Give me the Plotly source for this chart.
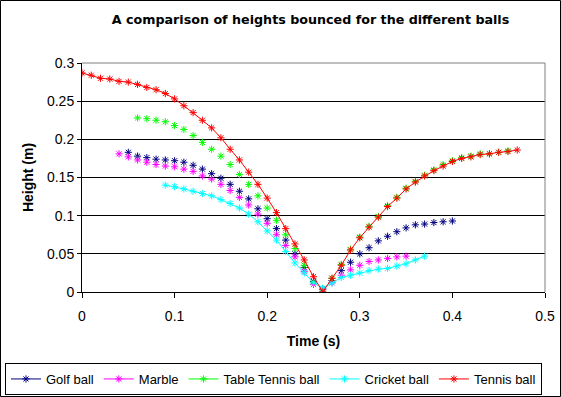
import plotly.graph_objects as go

# ---------------- data ----------------
golf_t = [0.05, 0.06, 0.07, 0.08, 0.09, 0.10, 0.11, 0.12, 0.13, 0.14, 0.15, 0.16,
          0.17, 0.18, 0.19, 0.20, 0.21, 0.22, 0.23, 0.24, 0.25, 0.26, 0.27, 0.28,
          0.29, 0.30, 0.31, 0.32, 0.33, 0.34, 0.35, 0.36, 0.37, 0.38, 0.39, 0.40]
golf_h = [0.183, 0.178, 0.176, 0.174, 0.173, 0.172, 0.170, 0.166, 0.161, 0.155, 0.149, 0.141,
          0.132, 0.122, 0.109, 0.096, 0.083, 0.068, 0.050, 0.032, 0.014, 0.004, 0.015, 0.028,
          0.039, 0.050, 0.058, 0.067, 0.073, 0.079, 0.084, 0.088, 0.089, 0.091, 0.092, 0.093]

marble_t = [0.04, 0.05, 0.06, 0.07, 0.08, 0.09, 0.10, 0.11, 0.12, 0.13, 0.14, 0.15,
            0.16, 0.17, 0.18, 0.19, 0.20, 0.21, 0.22, 0.23, 0.24, 0.25, 0.26, 0.27,
            0.28, 0.29, 0.30, 0.31, 0.32, 0.33, 0.34, 0.35]
marble_h = [0.181, 0.177, 0.173, 0.170, 0.167, 0.165, 0.164, 0.161, 0.158, 0.152, 0.148, 0.141,
            0.133, 0.124, 0.114, 0.102, 0.090, 0.075, 0.061, 0.046, 0.027, 0.010, 0.003, 0.012,
            0.022, 0.029, 0.035, 0.040, 0.042, 0.044, 0.046, 0.047]

tt_t = [0.06, 0.07, 0.08, 0.09, 0.10, 0.11, 0.12, 0.13, 0.14, 0.15, 0.16, 0.17,
        0.18, 0.19, 0.20, 0.21, 0.22, 0.23, 0.24, 0.25, 0.26, 0.27, 0.28, 0.29,
        0.30, 0.31, 0.32, 0.33, 0.34, 0.35, 0.36, 0.37, 0.38, 0.39, 0.40, 0.41,
        0.42, 0.43, 0.44, 0.45, 0.46]
tt_h = [0.228, 0.227, 0.225, 0.223, 0.218, 0.213, 0.205, 0.196, 0.187, 0.178, 0.167, 0.154,
        0.141, 0.126, 0.110, 0.094, 0.075, 0.057, 0.035, 0.013, 0.000, 0.018, 0.036, 0.056,
        0.072, 0.086, 0.099, 0.113, 0.124, 0.136, 0.145, 0.153, 0.160, 0.167, 0.172, 0.176,
        0.178, 0.181, 0.181, 0.183, 0.185]

cricket_t = [0.09, 0.10, 0.11, 0.12, 0.13, 0.14, 0.15, 0.16, 0.17, 0.18, 0.19, 0.20,
             0.21, 0.22, 0.23, 0.24, 0.25, 0.26, 0.27, 0.28, 0.29, 0.30, 0.31, 0.32,
             0.33, 0.34, 0.35, 0.36, 0.37]
cricket_h = [0.140, 0.138, 0.135, 0.132, 0.129, 0.126, 0.121, 0.116, 0.110, 0.102, 0.092, 0.080,
             0.068, 0.053, 0.038, 0.025, 0.012, 0.005, 0.012, 0.019, 0.022, 0.025, 0.028, 0.030,
             0.031, 0.034, 0.037, 0.042, 0.047]

tennis_t = [0.00, 0.01, 0.02, 0.03, 0.04, 0.05, 0.06, 0.07, 0.08, 0.09, 0.10, 0.11,
            0.12, 0.13, 0.14, 0.15, 0.16, 0.17, 0.18, 0.19, 0.20, 0.21, 0.22, 0.23,
            0.24, 0.25, 0.26, 0.27, 0.28, 0.29, 0.30, 0.31, 0.32, 0.33, 0.34, 0.35,
            0.36, 0.37, 0.38, 0.39, 0.40, 0.41, 0.42, 0.43, 0.44, 0.45, 0.46, 0.47]
tennis_h = [0.287, 0.284, 0.280, 0.279, 0.276, 0.275, 0.272, 0.268, 0.265, 0.260, 0.253, 0.244,
            0.235, 0.225, 0.215, 0.202, 0.187, 0.173, 0.157, 0.141, 0.123, 0.104, 0.083, 0.063,
            0.042, 0.020, 0.000, 0.018, 0.035, 0.055, 0.071, 0.085, 0.098, 0.112, 0.123, 0.135,
            0.144, 0.152, 0.159, 0.165, 0.171, 0.175, 0.177, 0.180, 0.181, 0.183, 0.184, 0.186]

series_names = ["Golf ball", "Marble", "Table Tennis ball", "Cricket ball", "Tennis ball"]
series_colors = ["#000080", "#FF00FF", "#00FF00", "#00FFFF", "#FF0000"]
series_lines = [False, False, False, True, True]
series_data = [(golf_t, golf_h), (marble_t, marble_h), (tt_t, tt_h),
               (cricket_t, cricket_h), (tennis_t, tennis_h)]

x_ticks = [0, 0.1, 0.2, 0.3, 0.4, 0.5]
y_ticks = [0, 0.05, 0.1, 0.15, 0.2, 0.25, 0.3]

# ---------------- figure ----------------
W, H = 561, 397
ML, MR, MT, MB = 82, 16, 63, 105
PW, PH = W - ML - MR, H - MT - MB
FONT = "Arial, Liberation Sans, sans-serif"
TITLE_FONT = "DejaVu Sans, Arial, sans-serif"

fig = go.Figure()
for name, color, has_line, (tx, hy) in zip(series_names, series_colors, series_lines, series_data):
    fig.add_trace(go.Scatter(
        x=tx, y=hy, name=name, showlegend=False,
        mode="lines+markers" if has_line else "markers",
        line=dict(color=color, width=1),
        marker=dict(symbol="asterisk-open", size=6, color=color,
                    line=dict(color=color, width=1)),
    ))
# legend entries (Excel shows line + marker for every series)
for name, color in zip(series_names, series_colors):
    fig.add_trace(go.Scatter(
        x=[None], y=[None], name=name, mode="lines+markers",
        line=dict(color=color, width=1),
        marker=dict(symbol="asterisk-open", size=6, color=color,
                    line=dict(color=color, width=1)),
    ))

fig.update_layout(
    width=W, height=H,
    margin=dict(l=ML, r=MR, t=MT, b=MB, autoexpand=False),
    paper_bgcolor="white", plot_bgcolor="white",
    font=dict(family=FONT, size=13, color="black"),
    title=dict(text="<b>A comparison of heights bounced for the different balls</b>",
               font=dict(family=TITLE_FONT, size=12.7, color="black"),
               x=310.5 / W, xref="container", xanchor="center",
               y=1 - 20 / H, yref="container", yanchor="middle"),
    xaxis=dict(range=[0, 0.5], tickvals=x_ticks, ticks="outside", ticklen=5,
               tickcolor="black", showline=True, linecolor="black", linewidth=1,
               showgrid=False, zeroline=False,
               tickfont=dict(family=FONT, size=14), ticklabelstandoff=6,
               title=dict(text="<b>Time (s)</b>", font=dict(family=FONT, size=14), standoff=13)),
    yaxis=dict(range=[0, 0.3], tickvals=y_ticks, ticks="outside", ticklen=4,
               tickcolor="black", showline=True, linecolor="black", linewidth=1,
               showgrid=True, gridcolor="black", gridwidth=1, zeroline=False,
               tickfont=dict(family=FONT, size=14),
               title=dict(text="<b>Height (m)</b>", font=dict(family=FONT, size=14), standoff=10)),
    legend=dict(orientation="h", x=(5 - ML) / PW, xanchor="left",
                y=(MT + PH - 379) / PH, yanchor="middle",
                bordercolor="black", borderwidth=1, font=dict(family=FONT, size=13),
                itemwidth=30, tracegroupgap=0),
    showlegend=True,
)

# plot-area border (grey top/right) and outer chart border
fig.add_shape(type="line", xref="paper", yref="paper", x0=0, x1=1, y0=1, y1=1,
              line=dict(color="#808080", width=1))
fig.add_shape(type="line", xref="paper", yref="paper", x0=1, x1=1, y0=0, y1=1,
              line=dict(color="#808080", width=1))
fig.add_shape(type="rect", xref="paper", yref="paper",
              x0=(0.5 - ML) / PW, x1=(W - 0.5 - ML) / PW,
              y0=-(MB - 0.5) / PH, y1=1 + (MT - 0.5) / PH,
              line=dict(color="black", width=1))

fig.write_html("out.html", config={"displayModeBar": False},
               post_script="document.body.style.margin='0px';")
